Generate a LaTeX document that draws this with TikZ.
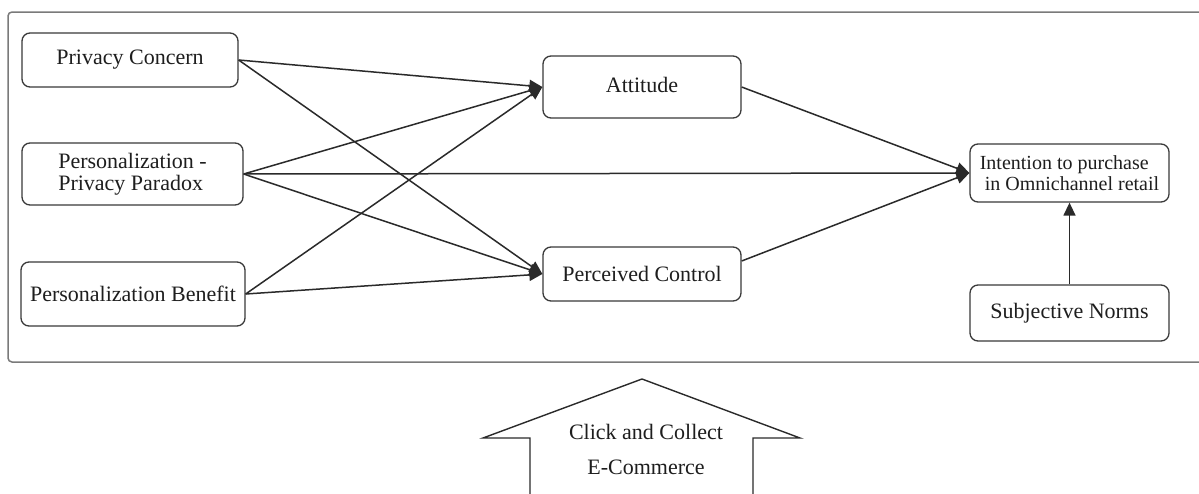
\documentclass[tikz,border=0pt]{standalone}
\usepackage{fontspec}
\setmainfont{Liberation Serif}
\usetikzlibrary{arrows.meta}
\definecolor{boxgray}{HTML}{3A3A3A}
\definecolor{framegray}{HTML}{7A7A7A}
\definecolor{linegray}{HTML}{2A2A2A}
\definecolor{txtcol}{HTML}{1E1E1E}
\begin{document}
\begin{tikzpicture}[x=1pt,y=-1pt,
  box/.style={draw=boxgray, line width=1.3pt, rounded corners=8pt, inner sep=0pt,
    text=txtcol, font=\fontsize{22}{22}\selectfont},
  link/.style={draw=linegray, line width=1.5pt, -{Triangle[length=13pt,width=12pt]}},
  lbl/.style={text=txtcol, font=\fontsize{22}{35}\selectfont, align=center, inner sep=0pt}]
\clip (0,0) rectangle (1199,493);
\fill[white] (0,0) rectangle (1199,493);
% outer frame (right edge beyond the picture)
\draw[framegray, line width=1.5pt, rounded corners=4pt] (8,12) rectangle (1215,362);

\node[box, minimum width=216pt, minimum height=54pt] (pcon) at (130,60) {\raisebox{3pt}{Privacy Concern}\hspace{12pt}};
\node[box, minimum width=221pt, minimum height=62pt, align=left] (ppp) at (132.5,174) {Personalization -\\Privacy Paradox};
\node[box, minimum width=224pt, minimum height=64pt] (pben) at (133,294) {\raisebox{-3pt}{Personalization Benefit}};
\node[box, minimum width=198pt, minimum height=62pt] (att) at (642,87) {\raisebox{4pt}{Attitude}};
\node[box, minimum width=198pt, minimum height=54pt] (pctl) at (642,274) {Perceived Control};
\node[box, minimum width=199pt, minimum height=58pt, align=left,
  font=\fontsize{20}{21}\selectfont] (int) at (1069.5,173) {Intention to purchase\\\hspace{5pt}in Omnichannel retail};
\node[box, minimum width=199pt, minimum height=56pt] (sn) at (1069.5,313) {Subjective Norms};

\draw[link] (pcon.east) -- (att.west);
\draw[link] (pcon.east) -- (pctl.west);
\draw[link] (ppp.east) -- (att.west);
\draw[link] (ppp.east) -- (int.west);
\draw[link] (ppp.east) -- (pctl.west);
\draw[link] (pben.east) -- (att.west);
\draw[link] (pben.east) -- (pctl.west);
\draw[link] (att.east) -- (int.west);
\draw[link] ([yshift=13pt]pctl.east) -- (int.west);
\draw[link] (sn.north) -- (int.south);

% block arrow (bottom runs off the picture)
\draw[linegray, line width=1.4pt, line join=miter]
  (530,500) -- (530,438) -- (483,438) -- (642,379) -- (800,438) -- (753,438) -- (753,500);
\node[lbl] (cc) at (646,449) {Click and Collect\\E-Commerce};
\end{tikzpicture}
\end{document}
